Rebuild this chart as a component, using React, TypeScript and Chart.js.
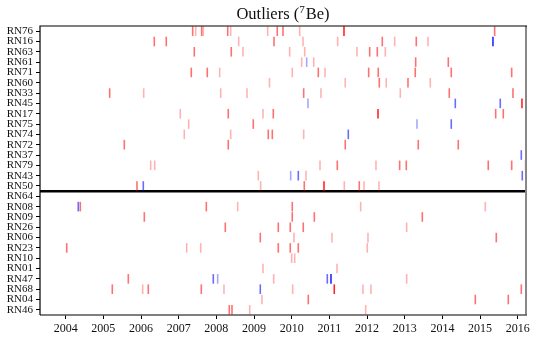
import React, { useEffect, useRef } from 'react';
import { Chart, registerables } from 'chart.js';
Chart.register(...registerables);

const rowLabels = [
  'RN76', 'RN16', 'RN63', 'RN61', 'RN71', 'RN60', 'RN33', 'RN45', 'RN17', 'RN75', 'RN74', 'RN72', 'RN37', 'RN79', 'RN43', 'RN50',
  'RN64', 'RN08', 'RN09', 'RN26', 'RN06', 'RN23', 'RN10', 'RN01', 'RN47', 'RN68', 'RN04', 'RN46',
];
const xTickYears = [2004, 2005, 2006, 2007, 2008, 2009, 2010, 2011, 2012, 2013, 2014, 2015, 2016];
const X_MIN = 2003.318;
const X_MAX = 2016.22;
const separatorAfter = 'RN50';

// [row, year, strength 1..3]
const redMarks: [string, number, number][] = [
  ['RN76', 2007.371, 2], ['RN76', 2007.451, 1], ['RN76', 2007.61, 2], ['RN76', 2007.653, 1], ['RN76', 2008.301, 2], ['RN76', 2008.38, 1],
  ['RN76', 2009.362, 1], ['RN76', 2009.617, 2], ['RN76', 2009.769, 2], ['RN76', 2010.212, 1], ['RN76', 2011.388, 3], ['RN76', 2015.388, 2],
  ['RN16', 2006.352, 2], ['RN16', 2006.67, 2], ['RN16', 2008.593, 1], ['RN16', 2009.53, 2], ['RN16', 2010.3, 1], ['RN16', 2011.22, 1],
  ['RN16', 2012.405, 2], ['RN16', 2012.734, 1], ['RN16', 2013.307, 2], ['RN16', 2013.618, 1],
  ['RN63', 2007.414, 2], ['RN63', 2008.396, 2], ['RN63', 2008.707, 1], ['RN63', 2009.946, 1], ['RN63', 2010.345, 1], ['RN63', 2011.733, 1],
  ['RN63', 2012.07, 2], ['RN63', 2012.272, 2], ['RN63', 2012.484, 1],
  ['RN61', 2010.265, 1], ['RN61', 2010.584, 1], ['RN61', 2013.291, 2], ['RN61', 2014.157, 2],
  ['RN71', 2007.334, 2], ['RN71', 2007.759, 2], ['RN71', 2008.088, 1], ['RN71', 2010.015, 1], ['RN71', 2010.706, 2], ['RN71', 2010.883, 1],
  ['RN71', 2012.043, 2], ['RN71', 2012.298, 2], ['RN71', 2013.28, 2], ['RN71', 2014.236, 2], ['RN71', 2015.84, 2],
  ['RN60', 2009.41, 1], ['RN60', 2011.422, 1], ['RN60', 2012.325, 2], ['RN60', 2012.51, 1], ['RN60', 2013.087, 2], ['RN60', 2013.679, 1],
  ['RN33', 2005.168, 2], ['RN33', 2006.071, 1], ['RN33', 2008.115, 1], ['RN33', 2008.813, 1], ['RN33', 2010.318, 2], ['RN33', 2010.777, 1],
  ['RN33', 2012.883, 1], ['RN33', 2014.183, 2], ['RN33', 2015.874, 2],
  ['RN45', 2016.113, 3],
  ['RN17', 2007.042, 1], ['RN17', 2008.316, 2], ['RN17', 2009.237, 1], ['RN17', 2009.511, 2], ['RN17', 2012.291, 3], ['RN17', 2015.415, 2], ['RN17', 2015.617, 2],
  ['RN75', 2007.265, 1], ['RN75', 2008.98, 2],
  ['RN74', 2007.148, 1], ['RN74', 2008.38, 1], ['RN74', 2009.378, 2], ['RN74', 2009.485, 2], ['RN74', 2010.318, 1],
  ['RN72', 2005.556, 2], ['RN72', 2008.316, 2], ['RN72', 2011.422, 2], ['RN72', 2013.36, 2], ['RN72', 2014.422, 2],
  ['RN79', 2006.256, 1], ['RN79', 2006.363, 1], ['RN79', 2010.751, 1], ['RN79', 2011.21, 2], ['RN79', 2012.237, 1], ['RN79', 2012.866, 2],
  ['RN79', 2013.042, 2], ['RN79', 2015.218, 2], ['RN79', 2015.84, 2], ['RN79', 2016.21, 2],
  ['RN43', 2009.113, 1], ['RN43', 2010.379, 1],
  ['RN50', 2005.893, 2], ['RN50', 2009.176, 1], ['RN50', 2010.334, 2], ['RN50', 2010.857, 3], ['RN50', 2011.396, 1], ['RN50', 2011.794, 2],
  ['RN50', 2011.919, 1], ['RN50', 2012.317, 1],
  ['RN08', 2004.388, 2], ['RN08', 2007.733, 2], ['RN08', 2008.566, 1], ['RN08', 2010.015, 2], ['RN08', 2011.831, 1], ['RN08', 2015.139, 1],
  ['RN09', 2006.087, 2], ['RN09', 2010.015, 2], ['RN09', 2010.6, 2], ['RN09', 2013.467, 2],
  ['RN26', 2008.237, 2], ['RN26', 2009.644, 2], ['RN26', 2009.962, 2], ['RN26', 2010.307, 2], ['RN26', 2013.052, 1],
  ['RN06', 2009.166, 2], ['RN06', 2010.06, 1], ['RN06', 2011.069, 1], ['RN06', 2012.025, 1], ['RN06', 2015.431, 2],
  ['RN23', 2004.027, 2], ['RN23', 2007.212, 1], ['RN23', 2007.584, 1], ['RN23', 2009.644, 2], ['RN23', 2009.962, 2], ['RN23', 2010.175, 2], ['RN23', 2012.006, 1],
  ['RN10', 2009.999, 1], ['RN10', 2010.079, 1],
  ['RN01', 2009.237, 1], ['RN01', 2011.202, 1],
  ['RN47', 2005.662, 2], ['RN47', 2009.522, 1], ['RN47', 2013.052, 1],
  ['RN68', 2005.237, 2], ['RN68', 2006.044, 1], ['RN68', 2006.193, 2], ['RN68', 2007.6, 2], ['RN68', 2008.202, 1], ['RN68', 2010.026, 1],
  ['RN68', 2011.13, 3], ['RN68', 2011.892, 1], ['RN68', 2012.104, 1], ['RN68', 2016.095, 2],
  ['RN04', 2009.21, 1], ['RN04', 2010.44, 2], ['RN04', 2014.874, 2], ['RN04', 2015.75, 2],
  ['RN46', 2008.343, 2], ['RN46', 2008.415, 2], ['RN46', 2008.885, 1], ['RN46', 2011.964, 1],
];

const blueMarks: [string, number, number][] = [
  ['RN16', 2015.343, 3],
  ['RN61', 2010.398, 1],
  ['RN45', 2010.432, 1], ['RN45', 2014.343, 2], ['RN45', 2015.537, 2],
  ['RN75', 2013.326, 1], ['RN75', 2014.236, 2],
  ['RN74', 2011.502, 2],
  ['RN37', 2016.095, 2],
  ['RN43', 2009.973, 1], ['RN43', 2010.175, 2], ['RN43', 2016.121, 2],
  ['RN50', 2006.06, 2],
  ['RN08', 2004.334, 2],
  ['RN47', 2007.918, 2], ['RN47', 2008.035, 1], ['RN47', 2010.945, 2], ['RN47', 2011.043, 3],
  ['RN68', 2009.166, 2],
];

const redAlpha = [0, 0.3, 0.56, 0.85];
const blueAlpha = [0, 0.35, 0.58, 0.85];

export default function App() {
  const ref = useRef<HTMLCanvasElement>(null);
  useEffect(() => {
    document.body.style.margin = '0';
    const rowPos = (l: string) => rowLabels.indexOf(l) + 0.5;
    const datasets: any[] = [];
    const groups: [[string, number, number][], string, number[]][] = [
      [redMarks, '255,0,0', redAlpha],
      [blueMarks, '0,0,255', blueAlpha],
    ];
    for (const [marks, rgb, alphas] of groups) {
      for (const lvl of [1, 2, 3]) {
        datasets.push({
          data: marks.filter((m) => m[2] === lvl).map((m) => ({ x: m[1], y: rowPos(m[0]) })),
          showLine: false,
          pointStyle: 'line',
          pointRotation: 90,
          pointRadius: 4.8,
          pointBorderWidth: 1.6,
          pointBorderColor: `rgba(${rgb},${alphas[lvl]})`,
          pointBackgroundColor: `rgba(${rgb},${alphas[lvl]})`,
        });
      }
    }
    const sepY = rowLabels.indexOf(separatorAfter) + 1;
    datasets.push({
      data: [{ x: X_MIN, y: sepY }, { x: X_MAX, y: sepY }],
      showLine: true,
      borderColor: '#000',
      borderWidth: 2.5,
      pointRadius: 0,
    });

    const frame = {
      id: 'frame',
      afterDraw(chart: any) {
        const { ctx, chartArea: a } = chart;
        ctx.save();
        ctx.strokeStyle = '#888';
        ctx.lineWidth = 2;
        ctx.beginPath();
        ctx.moveTo(a.right, a.top);
        ctx.lineTo(a.right, a.bottom);
        ctx.stroke();
        ctx.strokeStyle = '#555';
        ctx.lineWidth = 1.5;
        ctx.beginPath();
        ctx.moveTo(a.left, a.bottom);
        ctx.lineTo(a.right + 1, a.bottom);
        ctx.stroke();
        ctx.strokeStyle = '#000';
        ctx.lineWidth = 1.2;
        ctx.beginPath();
        ctx.moveTo(a.left, a.bottom);
        ctx.lineTo(a.left, a.top);
        ctx.lineTo(a.right + 1, a.top);
        ctx.stroke();
        // title
        ctx.fillStyle = '#111';
        ctx.textBaseline = 'alphabetic';
        const big = '16.5px "Liberation Serif"';
        const small = '11px "Liberation Serif"';
        const p1 = 'Outliers (';
        const p2 = '7';
        const p3 = 'Be)';
        ctx.font = big;
        const w1 = ctx.measureText(p1).width;
        const w3 = ctx.measureText(p3).width;
        ctx.font = small;
        const w2 = ctx.measureText(p2).width;
        const total = w1 + w2 + w3 + 1;
        let x = (a.left + a.right) / 2 - total / 2;
        const y = 18.5;
        ctx.font = big;
        ctx.fillText(p1, x, y);
        x += w1;
        ctx.font = small;
        ctx.fillText(p2, x, y - 6);
        x += w2 + 1;
        ctx.font = big;
        ctx.fillText(p3, x, y);
        ctx.restore();
      },
    };

    const xFont = { family: '"Liberation Serif"', size: 12 };
    const yFont = { family: '"Liberation Serif"', size: 11 };
    const chart = new Chart(ref.current!, {
      type: 'scatter',
      data: { datasets },
      options: {
        animation: false,
        responsive: false,
        devicePixelRatio: 1,
        layout: { padding: { top: 26, right: 12, left: 0, bottom: 0 } },
        plugins: { legend: { display: false }, title: { display: false }, tooltip: { enabled: false } },
        events: [],
        scales: {
          x: {
            type: 'linear',
            min: X_MIN,
            max: X_MAX,
            afterBuildTicks: (s: any) => { s.ticks = xTickYears.map((v) => ({ value: v })); },
            afterFit: (s: any) => { s.height = 26; },
            ticks: { font: xFont, color: '#111', padding: 3, maxRotation: 0, autoSkip: false, callback: (v: any) => String(v) },
            grid: { display: true, drawOnChartArea: false, drawTicks: true, tickLength: 4, color: '#000' },
            border: { display: false },
          },
          y: {
            type: 'linear',
            min: 0,
            max: rowLabels.length,
            reverse: true,
            afterBuildTicks: (s: any) => { s.ticks = rowLabels.map((_, i) => ({ value: i + 0.5 })); },
            afterFit: (s: any) => { s.width = 40; },
            ticks: { font: yFont, color: '#111', padding: 3, autoSkip: false, callback: (_v: any, i: number) => rowLabels[i] },
            grid: { display: true, drawOnChartArea: false, drawTicks: true, tickLength: 4, color: '#000' },
            border: { display: false },
          },
        },
      },
      plugins: [frame],
    } as any);
    return () => chart.destroy();
  }, []);
  return <canvas ref={ref} width={538} height={341} style={{ display: 'block' }} />;
}
